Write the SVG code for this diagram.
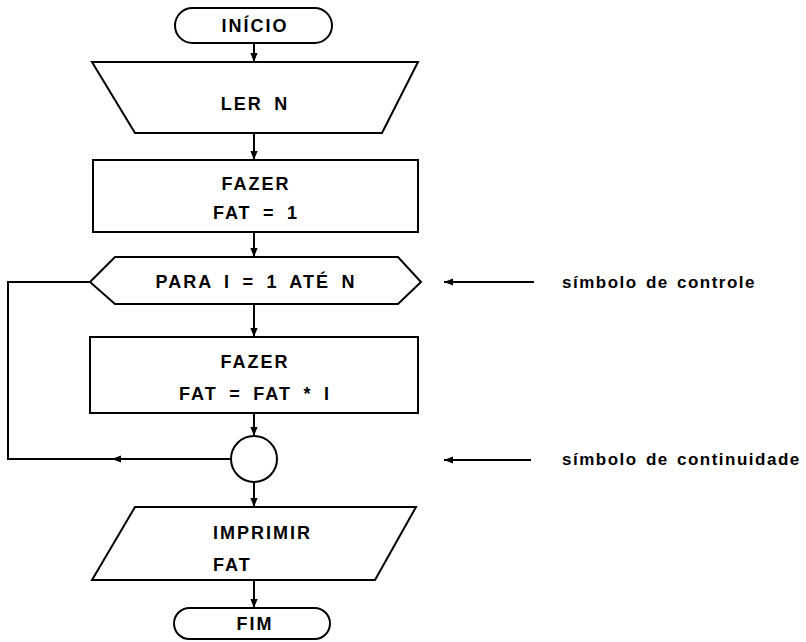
<svg xmlns="http://www.w3.org/2000/svg" width="806" height="642" viewBox="0 0 806 642">
  <defs>
    <marker id="arrow" viewBox="0 0 10 10" refX="10" refY="5" markerWidth="9" markerHeight="12" markerUnits="userSpaceOnUse" orient="auto">
      <path d="M0,1 L10,5 L0,9 Z" fill="#000"/>
    </marker>
    <style>
      .shape { fill: #fff; stroke: #000; stroke-width: 2; stroke-linejoin: miter; }
      .line { fill: none; stroke: #000; stroke-width: 2; }
      .flow { fill: none; stroke: #000; stroke-width: 2; marker-end: url(#arrow); }
      .label { font-family: "Liberation Sans", Arial, sans-serif; font-size: 18px; font-weight: bold; letter-spacing: 2px; word-spacing: 4.5px; fill: #000; text-anchor: middle; dominant-baseline: central; }
      .left { text-anchor: start; }
      .note { font-family: "Liberation Sans", Arial, sans-serif; font-size: 17px; font-weight: bold; letter-spacing: 1.5px; word-spacing: 2px; fill: #000; dominant-baseline: central; }
    </style>
  </defs>

  <!-- connectors -->
  <g id="connectors">
    <line class="flow" x1="254" y1="43" x2="254" y2="62"/>
    <line class="flow" x1="254" y1="133" x2="254" y2="160"/>
    <line class="flow" x1="254" y1="232" x2="254" y2="257"/>
    <line class="flow" x1="254" y1="304" x2="254" y2="337"/>
    <line class="flow" x1="254" y1="413" x2="254" y2="436"/>
    <line class="flow" x1="254" y1="482" x2="254" y2="507"/>
    <line class="flow" x1="254" y1="580" x2="254" y2="608"/>
    <!-- loop back from continuity point to control symbol -->
    <polyline class="line" points="231,459 8,459 8,282 90,282"/>
    <line class="flow" x1="140" y1="459" x2="112" y2="459"/>
    <!-- annotation pointers -->
    <line class="flow" x1="534" y1="282" x2="444" y2="282"/>
    <line class="flow" x1="531" y1="460" x2="444" y2="460"/>
  </g>

  <g id="inicio">
    <rect class="shape" x="175" y="8" width="157" height="35" rx="17.5" ry="17.5"/>
    <text class="label" x="255" y="26">INÍCIO</text>
  </g>

  <g id="ler-n">
    <polygon class="shape" points="92,62 418,62 382,133 135,133"/>
    <text class="label" x="255" y="104">LER N</text>
  </g>

  <g id="fazer-fat-1">
    <rect class="shape" x="93" y="160" width="325" height="72"/>
    <text class="label" x="256" y="184">FAZER</text>
    <text class="label" x="256" y="213">FAT = 1</text>
  </g>

  <g id="para">
    <polygon class="shape" points="90,282 115,257 398,257 421,282 398,304 115,304"/>
    <text class="label" x="256" y="282">PARA I = 1 ATÉ N</text>
  </g>

  <g id="fazer-fat-i">
    <rect class="shape" x="90" y="337" width="328" height="76"/>
    <text class="label" x="255" y="362">FAZER</text>
    <text class="label" x="255" y="394">FAT = FAT * I</text>
  </g>

  <g id="continuidade">
    <circle class="shape" cx="254" cy="459" r="23"/>
  </g>

  <g id="imprimir">
    <polygon class="shape" points="135,507 416,507 375,580 92,580"/>
    <text class="label left" x="213" y="533">IMPRIMIR</text>
    <text class="label left" x="213" y="565">FAT</text>
  </g>

  <g id="fim">
    <rect class="shape" x="174" y="608" width="156" height="31" rx="15.5" ry="15.5"/>
    <text class="label" x="255" y="624">FIM</text>
  </g>

  <g id="notes">
    <text class="note" x="562" y="282">símbolo de controle</text>
    <text class="note" x="562" y="459">símbolo de continuidade</text>
  </g>
</svg>
